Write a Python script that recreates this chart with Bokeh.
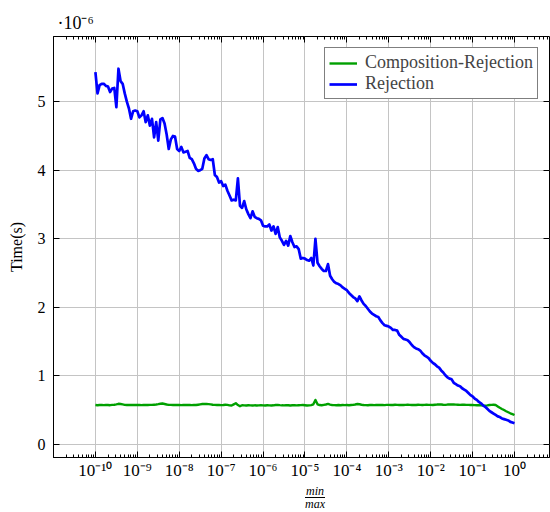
import numpy as np
from bokeh.plotting import figure
from bokeh.layouts import column
from bokeh.models import (FixedTicker, CustomJSTickFormatter, LogAxis, LinearAxis,
                          Range1d, Div)
from bokeh.embed import file_html
from bokeh.resources import INLINE

# ---------------- data (time in units of 1e-6 s) ----------------
ratio = np.logspace(-10, 0, 201)   # min/max sampling grid, 20 points per decade

rejection = [
    5.43, 5.12, 5.24, 5.26, 5.26, 5.23, 5.22, 5.14, 5.19, 5.20,
    4.92, 5.48, 5.30, 5.26, 5.12, 5.00, 4.90, 4.75, 4.86, 4.87,
    4.86, 4.77, 4.80, 4.86, 4.70, 4.80, 4.65, 4.75, 4.48, 4.70,
    4.43, 4.74, 4.76, 4.68, 4.52, 4.31, 4.45, 4.50, 4.49, 4.31,
    4.28, 4.34, 4.26, 4.27, 4.28, 4.18, 4.16, 4.10, 4.02, 3.99,
    4.00, 4.02, 4.17, 4.22, 4.16, 4.15, 4.16, 3.93, 3.90, 3.82,
    3.84, 3.77, 3.79, 3.70, 3.63, 3.56, 3.57, 3.56, 3.88, 3.48,
    3.45, 3.55, 3.43, 3.36, 3.30, 3.40, 3.32, 3.30, 3.29, 3.27,
    3.19, 3.18, 3.18, 3.21, 3.12, 3.18, 3.07, 3.17, 3.02, 2.97,
    2.91, 2.97, 2.90, 3.04, 2.95, 2.88, 2.89, 2.85, 2.71, 2.72,
    2.71, 2.69, 2.68, 2.72, 2.61, 3.00, 2.65, 2.60, 2.56, 2.53,
    2.53, 2.63, 2.46, 2.41, 2.37, 2.35, 2.34, 2.32, 2.29, 2.27,
    2.25, 2.21, 2.18, 2.15, 2.13, 2.09, 2.16, 2.10, 2.05, 2.02,
    1.98, 1.94, 1.91, 1.89, 1.87, 1.86, 1.81, 1.77, 1.74, 1.73,
    1.72, 1.70, 1.67, 1.67, 1.66, 1.60, 1.57, 1.54, 1.53, 1.52,
    1.49, 1.45, 1.42, 1.40, 1.39, 1.37, 1.33, 1.30, 1.28, 1.26,
    1.22, 1.19, 1.17, 1.14, 1.12, 1.08, 1.05, 1.01, 0.98, 0.96,
    0.95, 0.90, 0.88, 0.86, 0.85, 0.82, 0.80, 0.78, 0.75, 0.72,
    0.70, 0.67, 0.65, 0.62, 0.60, 0.57, 0.55, 0.52, 0.49, 0.47,
    0.45, 0.43, 0.41, 0.40, 0.38, 0.37, 0.36, 0.35, 0.33, 0.32, 0.31,
]

composition_rejection = [
    0.575, 0.572, 0.575, 0.578, 0.574, 0.577, 0.576, 0.573, 0.578, 0.580,
    0.585, 0.593, 0.590, 0.584, 0.578, 0.575, 0.577, 0.575, 0.578, 0.576,
    0.575, 0.577, 0.574, 0.578, 0.576, 0.575, 0.578, 0.577, 0.580, 0.583,
    0.588, 0.594, 0.597, 0.590, 0.583, 0.578, 0.577, 0.576, 0.578, 0.575,
    0.576, 0.574, 0.578, 0.575, 0.577, 0.576, 0.574, 0.578, 0.575, 0.580,
    0.585, 0.590, 0.592, 0.590, 0.588, 0.585, 0.580, 0.578, 0.575, 0.577,
    0.574, 0.576, 0.580, 0.578, 0.570, 0.568, 0.585, 0.602, 0.575, 0.558,
    0.572, 0.570, 0.568, 0.572, 0.570, 0.568, 0.571, 0.569, 0.570, 0.572,
    0.570, 0.568, 0.572, 0.570, 0.569, 0.571, 0.575, 0.578, 0.574, 0.571,
    0.570, 0.574, 0.572, 0.569, 0.571, 0.573, 0.570, 0.572, 0.574, 0.576,
    0.572, 0.568, 0.570, 0.574, 0.585, 0.650, 0.585, 0.575, 0.572, 0.578,
    0.583, 0.592, 0.582, 0.576, 0.574, 0.572, 0.575, 0.573, 0.576, 0.574,
    0.575, 0.573, 0.576, 0.578, 0.583, 0.590, 0.586, 0.580, 0.576, 0.574,
    0.573, 0.575, 0.577, 0.574, 0.576, 0.575, 0.578, 0.576, 0.574, 0.577,
    0.578, 0.575, 0.576, 0.580, 0.578, 0.575, 0.577, 0.576, 0.578, 0.580,
    0.577, 0.575, 0.578, 0.576, 0.579, 0.577, 0.575, 0.578, 0.580, 0.577,
    0.578, 0.576, 0.580, 0.582, 0.585, 0.583, 0.580, 0.578, 0.582, 0.584,
    0.585, 0.583, 0.581, 0.580, 0.578, 0.580, 0.579, 0.578, 0.577, 0.576,
    0.575, 0.574, 0.573, 0.572, 0.570, 0.568, 0.567, 0.570, 0.575, 0.578,
    0.580, 0.575, 0.555, 0.535, 0.518, 0.502, 0.485, 0.470, 0.455, 0.443, 0.430,
]

series_names = ["Composition-Rejection", "Rejection"]
xtick_exponents = [-10, -9, -8, -7, -6, -5, -4, -3, -2, -1, 0]
xtick_labels = ["10⁻¹⁰", "10⁻⁹", "10⁻⁸", "10⁻⁷", "10⁻⁶", "10⁻⁵",
                "10⁻⁴", "10⁻³", "10⁻²", "10⁻¹", "10⁰"]
ytick_values = [0, 1, 2, 3, 4, 5]
ytick_labels = ["0", "1", "2", "3", "4", "5"]
y_scale_text = "·10⁻⁶"
y_label = "Time(s)"
x_label_num = "min"
x_label_den = "max"

# ---------------- figure ----------------
FONT = "Liberation Serif"
GREEN = "#00a000"
BLUE = "#0000ff"
GRID = "#c4c4c4"

p = figure(width=550, height=482, x_axis_type="log",
           x_range=Range1d(1e-11, 6.84), y_range=Range1d(-0.19, 5.95),
           output_backend="svg", toolbar_location=None,
           min_border_left=53, min_border_right=1,
           min_border_top=36, min_border_bottom=25)
p.outline_line_color = "black"
p.outline_line_width = 1
p.background_fill_color = "white"
p.border_fill_color = "white"

p.title.text = y_scale_text
p.title.align = "left"
p.title.offset = 4
p.title.standoff = 8
p.title.text_font = FONT
p.title.text_font_style = "normal"
p.title.text_font_size = "18px"
p.title.text_color = "black"

major_x = [10.0 ** e for e in range(-11, 1)]
minor_x = [m * 10.0 ** e for e in range(-11, 1) for m in range(2, 10)]
xticker = FixedTicker(ticks=major_x, minor_ticks=minor_x)
yticker = FixedTicker(ticks=ytick_values)

xfmt = CustomJSTickFormatter(args=dict(exps=xtick_exponents, labels=xtick_labels), code="""
    const e = Math.round(Math.log10(tick));
    const i = exps.indexOf(e);
    return i >= 0 ? labels[i] : "";
""")

xa = p.xaxis[0]
xa.ticker = xticker
xa.formatter = xfmt
xa.major_tick_in = 6
xa.major_tick_out = 0
xa.minor_tick_in = 3
xa.minor_tick_out = 0
xa.major_label_text_font = FONT
xa.major_label_text_font_size = "17px"
xa.major_label_text_color = "black"
xa.major_label_standoff = 3
xa.axis_line_color = "black"

ya = p.yaxis[0]
ya.ticker = yticker
ya.major_label_overrides = {v: s for v, s in zip(ytick_values, ytick_labels)}
ya.major_tick_in = 6
ya.major_tick_out = 0
ya.minor_tick_line_color = None
ya.major_label_text_font = FONT
ya.major_label_text_font_size = "16px"
ya.major_label_text_color = "black"
ya.major_label_standoff = 8
ya.axis_label = y_label
ya.axis_label_text_font = FONT
ya.axis_label_text_font_style = "normal"
ya.axis_label_text_font_size = "16px"
ya.axis_label_text_color = "black"
ya.axis_label_standoff = 10

# mirrored tick axes (top and right)
empty = CustomJSTickFormatter(code="return '';")
top = LogAxis(ticker=xticker, formatter=empty, major_tick_in=6, major_tick_out=0,
              minor_tick_in=3, minor_tick_out=0, major_label_text_font_size="0px",
              major_label_standoff=0, axis_line_color=None)
p.add_layout(top, "above")
right = LinearAxis(ticker=yticker, formatter=empty, major_tick_in=6, major_tick_out=0,
                   minor_tick_line_color=None, major_label_text_font_size="0px",
                   major_label_standoff=0, axis_line_color=None)
p.add_layout(right, "right")

p.xgrid.ticker = xticker
p.ygrid.ticker = yticker
p.xgrid.grid_line_color = GRID
p.ygrid.grid_line_color = GRID
p.xgrid.grid_line_width = 1
p.ygrid.grid_line_width = 1

p.line(ratio, composition_rejection, line_color=GREEN, line_width=2.4,
       line_join="round", legend_label=series_names[0])
p.line(ratio, rejection, line_color=BLUE, line_width=2.7,
       line_join="round", legend_label=series_names[1])

lg = p.legend[0]
lg.location = "top_right"
lg.margin = 11
lg.padding = 4
lg.spacing = 0
lg.glyph_width = 28
lg.glyph_height = 18
lg.label_height = 18
lg.label_standoff = 8
lg.label_text_font = FONT
lg.label_text_font_size = "18px"
lg.border_line_color = "black"
lg.border_line_width = 1
lg.background_fill_alpha = 1.0

# fractional x-axis label  min / max
frac_html = (
    '<div style="padding-left:305px;padding-top:4px;font-family:\'Liberation Serif\',serif;'
    'font-style:italic;font-size:12px;line-height:11px;color:black">'
    '<div style="display:inline-block;text-align:center">'
    f'<div style="border-bottom:1px solid black;padding:0 1px 0 1px">{x_label_num}</div>'
    f'<div style="padding-top:1px">{x_label_den}</div>'
    '</div></div>'
)
xlabel_div = Div(text=frac_html, width=550, height=30, margin=0)

layout = column(p, xlabel_div, spacing=0)
open("out.html", "w").write(file_html(layout, INLINE))
